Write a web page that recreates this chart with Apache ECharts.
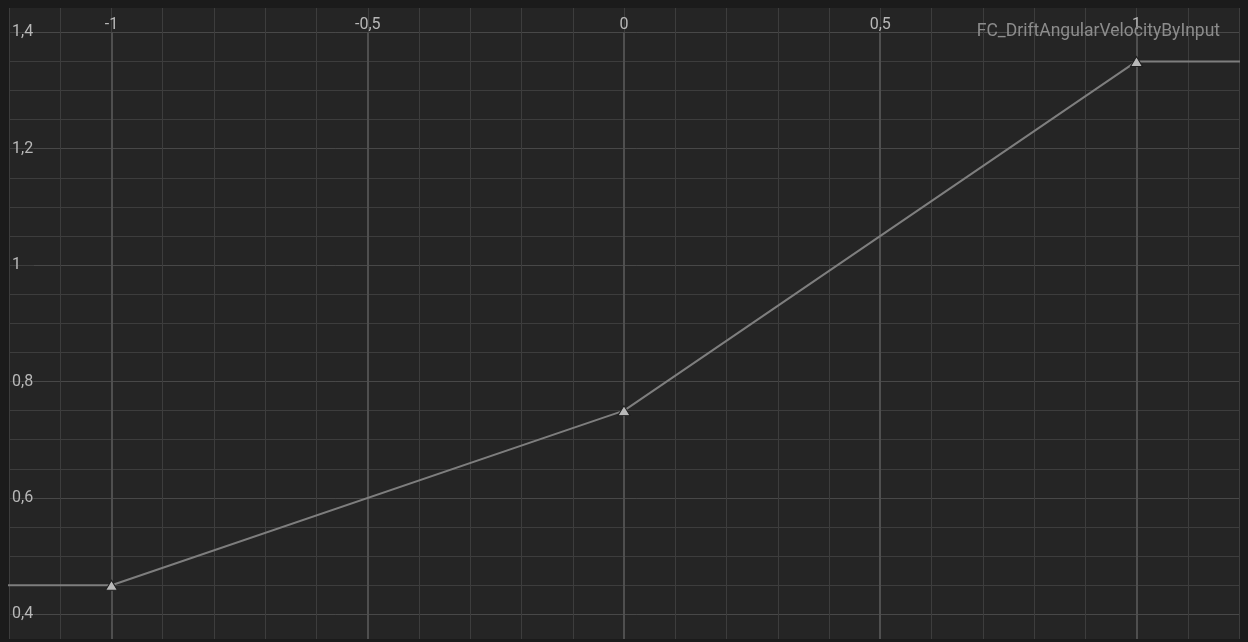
<!DOCTYPE html>
<html>
<head>
<meta charset="utf-8">
<script src="https://cdn.jsdelivr.net/npm/echarts@6/dist/echarts.min.js"></script>
<style>
    html, body { margin: 0; padding: 0; background: #1b1b1b; }
    #main { width: 1248px; height: 642px; }
</style>
</head>
<body>
<div id="main"></div>
<script>
// curve keys (time -> value)
var curveName = 'FC_DriftAngularVelocityByInput';
var keyTimes = [-1, 0, 1];
var keyValues = [0.45, 0.75, 1.35];

// visible range of the editor view
var xRange = [-1.2, 1.2];
var yRange = [0.3576, 1.4418];

// grid lines / tick labels
var xMajor = [-1, -0.5, 0, 0.5, 1];
var xMinor = [-1.2, -1.1, -1, -0.9, -0.8, -0.7, -0.6, -0.5, -0.4, -0.3, -0.2, -0.1, 0,
    0.1, 0.2, 0.3, 0.4, 0.5, 0.6, 0.7, 0.8, 0.9, 1, 1.1, 1.2];
var yMajor = [0.4, 0.6, 0.8, 1, 1.2, 1.4];
var yMinor = [0.4, 0.45, 0.5, 0.55, 0.6, 0.65, 0.7, 0.75, 0.8, 0.85, 0.9, 0.95, 1,
    1.05, 1.1, 1.15, 1.2, 1.25, 1.3, 1.35, 1.4];

var myChart = echarts.init(document.getElementById('main'));

// plot area in px
var plotLeft = 9, plotTop = 8, plotRight = 1239, plotBottom = 639;
var majorLeft = 34;
var pxPerX = (plotRight - plotLeft) / (xRange[1] - xRange[0]);
var pxPerY = (plotBottom - plotTop) / (yRange[1] - yRange[0]);
// major lines start a bit inside (under the labels)
var majorXMin = xRange[0] + (majorLeft - plotLeft) / pxPerX;
var majorTop = plotTop + (yRange[1] - yMajor[yMajor.length - 1]) * pxPerY;

function fmt(v) {
    return String(v).replace('.', ',');
}

// constant extrapolation before first / after last key
var curveData = [];
curveData.push({value: [xRange[0] - 0.1, keyValues[0]], symbol: 'none'});
for (var i = 0; i < keyTimes.length; i++) {
    curveData.push([keyTimes[i], keyValues[i]]);
}
curveData.push({value: [xRange[1] + 0.1, keyValues[keyValues.length - 1]], symbol: 'none'});

var labelStyle = {
    color: '#b8b8b8',
    fontFamily: 'Roboto',
    fontSize: 16
};

option = {
    backgroundColor: '#1b1b1b',
    animation: false,
    title: {
        text: curveName,
        right: 28,
        top: 23,
        padding: 0,
        textStyle: {
            color: '#8c8c8c',
            fontFamily: 'Roboto',
            fontWeight: 'normal',
            fontSize: 17.5
        }
    },
    grid: [
        {
            left: plotLeft,
            top: plotTop,
            width: plotRight - plotLeft,
            height: plotBottom - plotTop,
            show: true,
            backgroundColor: '#252525',
            borderWidth: 0
        },
        {
            left: majorLeft,
            top: majorTop,
            width: plotRight - majorLeft,
            height: plotBottom - majorTop,
            borderWidth: 0
        }
    ],
    xAxis: [
        {
            type: 'value',
            gridIndex: 0,
            min: xRange[0],
            max: xRange[1],
            axisLine: {show: false},
            axisTick: {show: false, customValues: xMinor},
            axisLabel: {show: false},
            splitLine: {show: true, lineStyle: {color: '#3d3d3d', width: 1}}
        },
        {
            type: 'value',
            gridIndex: 1,
            position: 'top',
            min: majorXMin,
            max: xRange[1],
            axisLine: {show: false},
            axisTick: {show: false, customValues: xMajor},
            axisLabel: {
                customValues: xMajor,
                formatter: fmt,
                margin: -1,
                color: labelStyle.color,
                fontFamily: labelStyle.fontFamily,
                fontSize: labelStyle.fontSize
            },
            splitLine: {show: true, lineStyle: {color: '#4f4f4f', width: 2}}
        }
    ],
    yAxis: [
        {
            type: 'value',
            gridIndex: 0,
            min: yRange[0],
            max: yRange[1],
            axisLine: {show: false},
            axisTick: {show: false, customValues: yMinor},
            axisLabel: {show: false},
            splitLine: {show: true, lineStyle: {color: '#3d3d3d', width: 1}}
        },
        {
            type: 'value',
            gridIndex: 1,
            min: yRange[0],
            max: yMajor[yMajor.length - 1],
            axisLine: {show: false},
            axisTick: {show: false, customValues: yMajor},
            axisLabel: {
                customValues: yMajor,
                formatter: fmt,
                align: 'left',
                margin: majorLeft - 12,
                padding: [2, 0, 0, 0],
                color: labelStyle.color,
                fontFamily: labelStyle.fontFamily,
                fontSize: labelStyle.fontSize
            },
            splitLine: {show: true, lineStyle: {color: '#484848', width: 1}}
        }
    ],
    series: [
        {
            name: curveName,
            type: 'line',
            xAxisIndex: 0,
            yAxisIndex: 0,
            data: curveData,
            clip: true,
            symbol: 'triangle',
            symbolSize: [12, 10],
            showAllSymbol: true,
            lineStyle: {color: '#7e7e7e', width: 2},
            itemStyle: {color: '#b8b8b8', borderColor: '#1e1e1e', borderWidth: 1}
        }
    ]
};

myChart.setOption(option);
</script>
</body>
</html>
